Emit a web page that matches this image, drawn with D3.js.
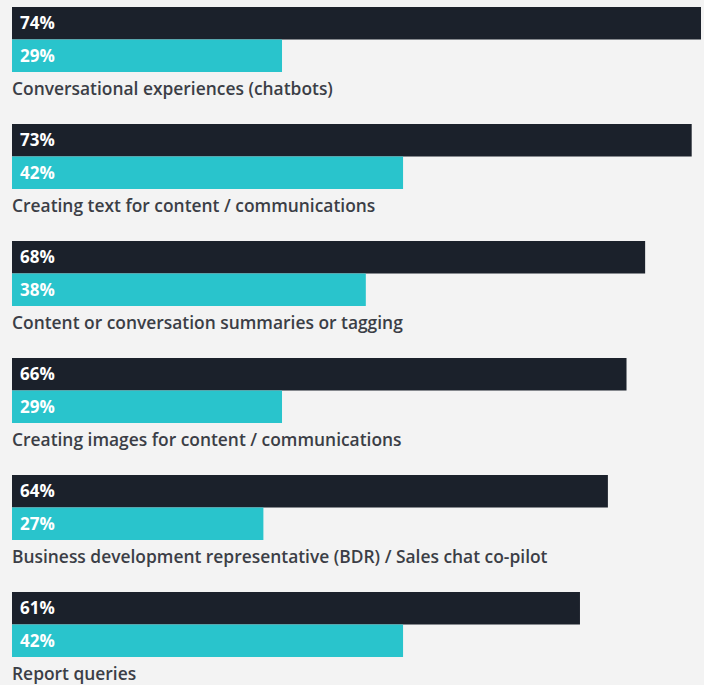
<!DOCTYPE html>
<html>
<head>
<meta charset="utf-8">
<script src="https://cdn.jsdelivr.net/npm/d3@7"></script>
<style>
  html, body { margin: 0; padding: 0; background: #f3f3f3; }
  svg { display: block; }
</style>
</head>
<body>
<svg id="chart" width="704" height="685"></svg>
<script>
// Use cases and their two survey percentages
const categories = [
  "Conversational experiences (chatbots)",
  "Creating text for content / communications",
  "Content or conversation summaries or tagging",
  "Creating images for content / communications",
  "Business development representative (BDR) / Sales chat co-pilot",
  "Report queries"
];
const primaryValues = [74, 73, 68, 66, 64, 61];
const secondaryValues = [29, 42, 38, 29, 27, 42];
const seriesKeys = ["primary", "secondary"];
const seriesColors = ["#1b212b", "#29c4cc"];

const rows = categories.map((c, i) => ({
  category: c,
  primary: primaryValues[i],
  secondary: secondaryValues[i]
}));

const svg = d3.select("#chart");
const W = 704, H = 685;

svg.append("rect").attr("width", W).attr("height", H).attr("fill", "#f3f3f3");

const x = d3.scaleLinear().domain([0, 74]).range([12, 701]);

const y = d3.scaleBand()
  .domain(categories)
  .range([7, 7 + 117 * categories.length])
  .paddingInner(0).paddingOuter(0);

const sub = d3.scaleBand()
  .domain(seriesKeys)
  .range([0, 65]);

const color = d3.scaleOrdinal().domain(seriesKeys).range(seriesColors);

const font = "'Open Sans', 'Noto Sans', sans-serif";

const groups = svg.selectAll("g.group")
  .data(rows)
  .join("g")
  .attr("class", "group")
  .attr("transform", d => `translate(0,${y(d.category)})`);

groups.selectAll("rect.bar")
  .data(d => seriesKeys.map(k => ({ key: k, value: d[k] })))
  .join("rect")
  .attr("class", "bar")
  .attr("x", x(0))
  .attr("y", d => sub(d.key))
  .attr("width", d => x(d.value) - x(0))
  .attr("height", sub.bandwidth())
  .attr("fill", d => color(d.key));

groups.selectAll("text.value")
  .data(d => seriesKeys.map(k => ({ key: k, value: d[k] })))
  .join("text")
  .attr("class", "value")
  .attr("x", x(0) + 8)
  .attr("y", d => sub(d.key) + sub.bandwidth() / 2)
  .attr("dy", "0.36em")
  .attr("fill", "#ffffff")
  .attr("font-family", font)
  .attr("font-weight", 700)
  .attr("font-size", 17)
  .text(d => d.value + "%");

groups.append("text")
  .attr("class", "category")
  .attr("x", x(0))
  .attr("y", 87.5)
  .attr("fill", "#3b3e46")
  .attr("font-family", font)
  .attr("font-weight", 600)
  .attr("font-size", 17.4)
  .text(d => d.category);
</script>
</body>
</html>
